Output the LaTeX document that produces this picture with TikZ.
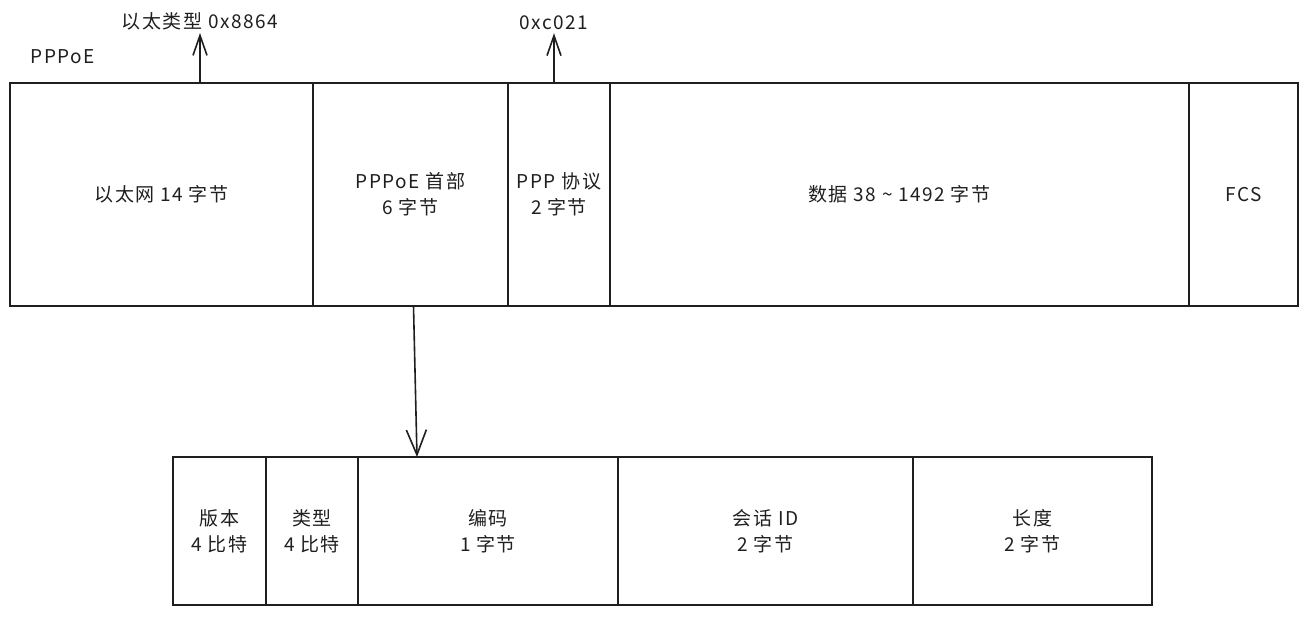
\documentclass[tikz,border=0pt]{standalone}
\usepackage{fontspec}
\setmainfont[LetterSpace=8]{Noto Sans CJK SC}
\usetikzlibrary{positioning}
\usetikzlibrary{arrows.meta}

\begin{document}
\begin{tikzpicture}[x=1pt,y=-1pt,
    cell/.style={draw=black!88, line width=1.6pt, rectangle, inner sep=0pt, outer sep=0pt, align=center, text=black!88, font=\fontsize{19}{26}\selectfont},
    top/.style={cell, minimum height=223pt},
    low/.style={cell, minimum height=148pt},
    lbl/.style={text=black!88, font=\fontsize{19}{26}\selectfont, inner sep=0pt},
    link/.style={draw=black!88, line width=1.6pt, -{Straight Barb[length=20pt,width=14pt]}}]
\useasboundingbox (0,0) rectangle (1311,617);
% Ethernet frame
\node[top, minimum width=303pt, anchor=north west] (eth) at (10,83) {以太网 14 字节};
\node[top, minimum width=195pt] (hdr) [right=0pt of eth] {PPPoE 首部\\6 字节};
\node[top, minimum width=102pt] (ppp) [right=0pt of hdr] {PPP 协议\\2 字节};
\node[top, minimum width=579pt] (data) [right=0pt of ppp] {数据 38 \textasciitilde{} 1492 字节};
\node[top, minimum width=109pt] (fcs) [right=0pt of data] {FCS};

\node[lbl] (pppoe) at (63,57) {PPPoE};
\node[lbl] (ethtype) at (200,21) {以太类型 0x8864};
\node[lbl] (pppid) at (554,23) {0xc021};

% PPPoE header
\node[low, minimum width=93pt, anchor=north west] (ver) at (173,457) {版本\\4 比特};
\node[low, minimum width=92pt] (type) [right=0pt of ver] {类型\\4 比特};
\node[low, minimum width=260pt] (code) [right=0pt of type] {编码\\1 字节};
\node[low, minimum width=295pt] (sid) [right=0pt of code] {会话 ID\\2 字节};
\node[low, minimum width=239pt] (len) [right=0pt of sid] {长度\\2 字节};

\draw[link, shorten >=3pt] (eth.north -| ethtype) -- (ethtype.south);
\draw[link, shorten >=3pt] (ppp.north -| pppid) -- (pppid.south);
\draw[link, -{Straight Barb[length=25pt,width=20pt]}] ([xshift=3pt]hdr.south) -- ([xshift=-71pt]code.north);
\end{tikzpicture}
\end{document}
